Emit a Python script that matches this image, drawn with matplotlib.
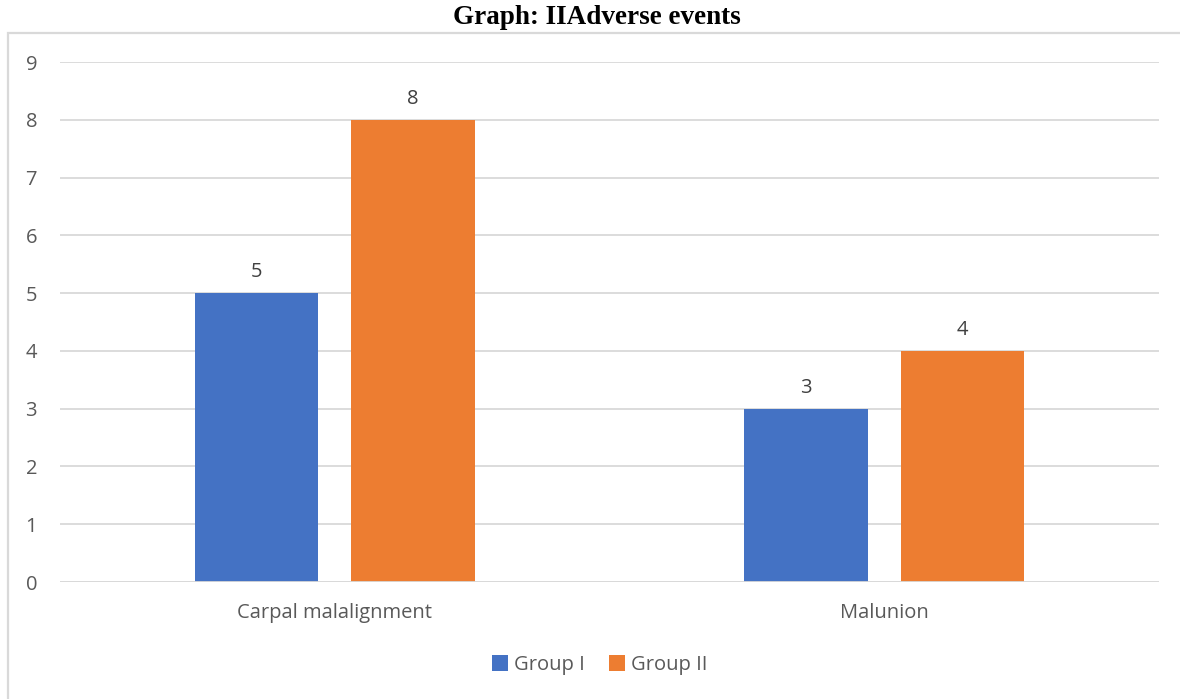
import numpy as np
import matplotlib.pyplot as plt
from matplotlib.patches import Rectangle

# data
categories = ["Carpal malalignment", "Malunion"]
group1 = [5, 3]
group2 = [8, 4]
series_names = ["Group I", "Group II"]
colors = ["#4472C4", "#ED7D31"]

plt.rcParams['font.family'] = ['Open Sans', 'DejaVu Sans']

fig = plt.figure(figsize=(11.8, 6.99), dpi=100)
ax = fig.add_axes([60 / 1180, 1 - 582 / 699, (1159 - 60) / 1180, (582 - 62) / 699])

# outer chart border (runs off the right/bottom edge)
fig.patches.append(Rectangle((8 / 1180, -0.05), 1.1, 1 - 33 / 699 + 0.05,
                             transform=fig.transFigure, fill=False,
                             edgecolor="#d9d9d9", linewidth=1.6, zorder=0))

x = np.arange(len(categories))
w = 0.225
gap = 0.06
off = (w + gap) / 2
b1 = ax.bar(x - off, group1, w, color=colors[0], label=series_names[0], zorder=3)
b2 = ax.bar(x + off, group2, w, color=colors[1], label=series_names[1], zorder=3)

for bars in (b1, b2):
    for r in bars:
        ax.annotate(f"{r.get_height():g}", (r.get_x() + r.get_width() / 2, r.get_height()),
                    xytext=(0, 8), textcoords="offset points", ha="center", va="bottom",
                    fontsize=14.5, color="#404040")

ax.set_xlim(-0.5, 1.5)
ax.set_ylim(0, 9)
ax.set_yticks(range(0, 10))
ax.set_xticks(x)
ax.set_xticklabels(categories)
ax.tick_params(axis="both", length=0, labelsize=14.5, labelcolor="#595959")
ax.tick_params(axis="y", pad=16.5)
ax.tick_params(axis="x", pad=15)
ax.grid(axis="y", color="#d9d9d9", linewidth=1.3, zorder=0)
for s in ax.spines.values():
    s.set_visible(False)
ax.axhline(0, color="#d9d9d9", linewidth=1.3, zorder=4)

fig.text(597 / 1180, 1 - 18 / 699, "Graph: IIAdverse events", ha="center", va="center",
         fontsize=19.5, fontweight="bold", family=["Liberation Serif", "DejaVu Serif"])

fig.legend(handles=[b1, b2], labels=series_names, loc="center", bbox_to_anchor=(600 / 1180, 1 - 665 / 699),
           ncol=2, frameon=False, fontsize=14.5, handlelength=0.8, handleheight=0.8,
           handletextpad=0.3, columnspacing=1.2, labelcolor="#595959")

fig.savefig("out.png", dpi=100)
